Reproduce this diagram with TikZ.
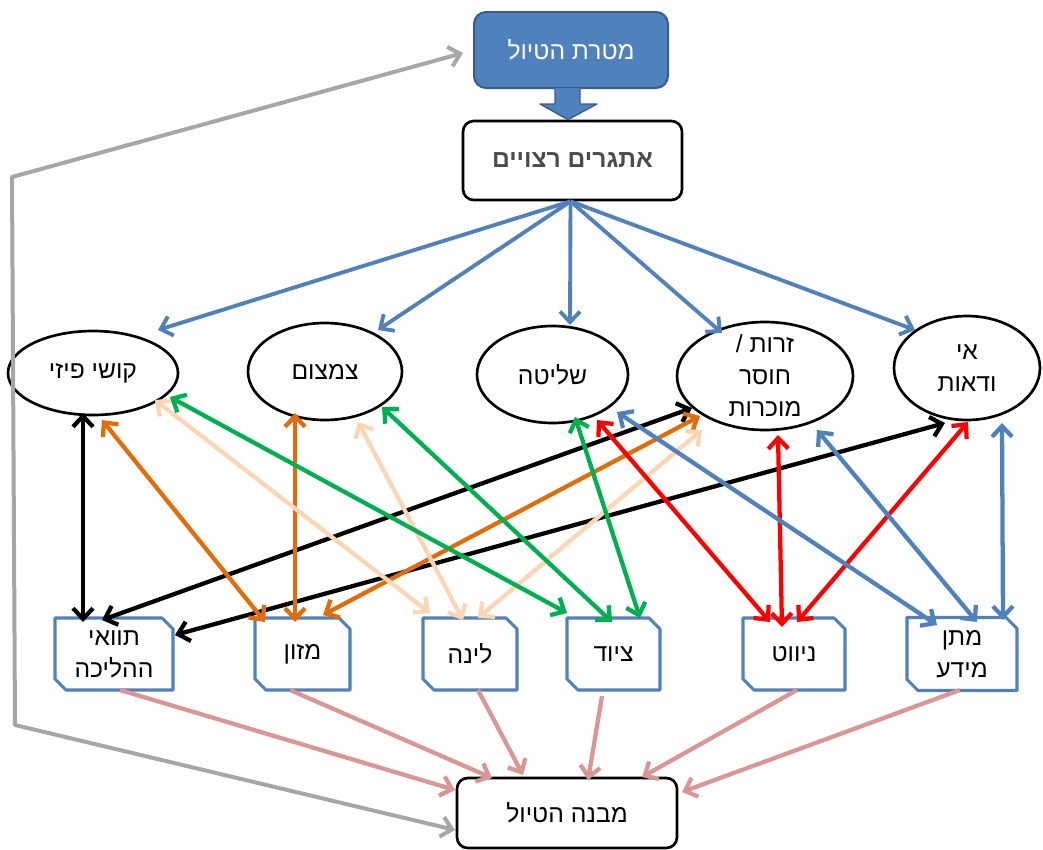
\documentclass[tikz,border=0pt]{standalone}
\usepackage{fontspec}
\setmainfont{Liberation Sans}
\newfontfamily\heb[Script=Hebrew]{Liberation Sans}
\TeXXeTstate=1
\usetikzlibrary{arrows.meta,calc,shapes.geometric}
\definecolor{cblue}{RGB}{79,129,189}
\definecolor{cbluedark}{RGB}{56,93,138}
\definecolor{corange}{RGB}{227,108,9}
\definecolor{cpeach}{RGB}{252,213,180}
\definecolor{cgreen}{RGB}{0,176,80}
\definecolor{cred}{RGB}{255,0,0}
\definecolor{cpink}{RGB}{217,150,148}
\definecolor{cgrey}{RGB}{166,166,166}
\begin{document}
\begin{tikzpicture}[x=0.75pt,y=-0.75pt,
  >={Straight Barb[length=8pt,width=15pt]},
  every node/.style={font=\heb\fontsize{18.5}{24}\selectfont},
  ell/.style={ellipse, draw=black, line width=2pt, inner sep=0pt},
  cbox/.style={rectangle, inner sep=0pt, outer sep=0pt, minimum height=54pt, align=center},
  cboxline/.style={draw=cblue, line width=2.3pt, line join=round},
  conn/.style={line width=3.2pt, <->},
  bluec/.style={draw=cblue, line width=2.9pt, ->},
  pinkc/.style={draw=cpink, line width=3.2pt, ->},
  greyc/.style={draw=cgrey, line width=3pt, <->},
]
\useasboundingbox (0,0) rectangle (1043,850);

% top boxes
\node[rectangle, rounded corners=9pt, fill=cblue, draw=cbluedark, line width=1.5pt, text=white,
      minimum width=145.5pt, minimum height=57pt] (goal) at (571,50) {\beginR מטרת הטיול\endR};
\node[rectangle, rounded corners=8pt, draw=black, line width=2pt, text=black!70,
      font=\heb\bfseries\fontsize{18.5}{24}\selectfont,
      minimum width=164.25pt, minimum height=59.25pt] (at) at (572.5,160.5) {\beginR אתגרים רצויים\endR};

% block arrow
\fill[cblue] ($(goal.south)+(-16,-1)$) -- ($(goal.south)+(9,-1)$) -- ($(goal.south)+(9,15)$) -- ($(goal.south)+(26,15)$)
  -- ($(at.north)+(-4.5,0)$) -- ($(goal.south)+(-31,15)$) -- ($(goal.south)+(-16,15)$) -- cycle;
\draw[cbluedark, line width=1pt, line join=round] ($(goal.south)+(9,0)$) -- ($(goal.south)+(9,15)$) -- ($(goal.south)+(26,15)$)
  -- ($(at.north)+(-4.5,0)$) -- ($(goal.south)+(-31,15)$) -- ($(goal.south)+(-16,15)$) -- ($(goal.south)+(-16,0)$);

% ellipses
\node[ell, minimum width=127.5pt, minimum height=63pt, label={center:\beginR קושי פיזי\endR}] (kp) at (93,373) {};
\node[ell, minimum width=115.5pt, minimum height=72.75pt, label={center:\beginR צמצום\endR}] (cm) at (325,371.5) {};
\node[ell, minimum width=113.25pt, minimum height=72.75pt, label={center:\beginR שליטה\endR}] (sh) at (552.5,374.5) {};
\node[ell, minimum width=132pt, minimum height=81pt,
      label={[align=center]center:{\beginR זרות /\endR\\\beginR חוסר\endR\\\beginR מוכרות\endR}}] (zr) at (765,376) {};
\node[ell, minimum width=109.5pt, minimum height=78pt,
      label={[align=center]center:{\beginR אי\endR\\\beginR ודאות\endR}}] (ad) at (967,368) {};

% chamfered boxes
\node[cbox, minimum width=88.5pt] (tv) at (114,654) {\beginR תוואי\endR\\\beginR ההליכה\endR};
\node[cbox, minimum width=71.25pt] (mz) at (302.5,654) {\beginR מזון\endR};
\node[cbox, minimum width=70.5pt] (ln) at (470,654) {\beginR לינה\endR};
\node[cbox, minimum width=69.75pt] (cy) at (613.5,654) {\beginR ציוד\endR};
\node[cbox, minimum width=76.5pt] (nv) at (794,654) {\beginR ניווט\endR};
\node[cbox, minimum width=82.5pt, minimum height=54.75pt] (mm) at (962,654) {\beginR מתן\endR\\\beginR מידע\endR};
\foreach \n in {tv,mz,ln,cy,nv,mm}{
  \draw[cboxline] (\n.north west) -- ($(\n.north east)+(-11,0)$) -- ($(\n.north east)+(0,11)$)
    -- (\n.south east) -- ($(\n.south west)+(11,0)$) -- ($(\n.south west)+(0,-11)$) -- cycle;
}

% bottom box
\node[rectangle, rounded corners=8pt, draw=black, line width=2pt,
      minimum width=165pt, minimum height=52.5pt] (mb) at (567,813) {\beginR מבנה הטיול\endR};

% blue arrows from challenges
\draw[bluec] ($(at.south)+(-2,0)$) -- ($(kp.center)+(65,-43)$);
\draw[bluec] ($(at.south)+(-2,0)$) -- ($(cm.center)+(53,-41.5)$);
\draw[bluec] ($(at.south)+(-2,0)$) -- ($(sh.center)+(17.5,-49.5)$);
\draw[bluec] ($(at.south)+(-2,0)$) -- ($(zr.center)+(-43,-43)$);
\draw[bluec] ($(at.south)+(-2,0)$) -- ($(ad.center)+(-52,-38)$);

% black
\draw[conn, black] ($(kp.center)+(-10,40)$) -- ($(tv.center)+(-31,-32)$);
\draw[conn, black] ($(zr.center)+(-73,32)$) -- ($(tv.center)+(-12,-34)$);
\draw[conn, black] ($(ad.center)+(-22,55)$) -- ($(tv.center)+(61,-19)$);
% orange
\draw[conn, corange] ($(kp.center)+(9,47)$) -- ($(mz.center)+(-37.5,-32)$);
\draw[conn, corange] ($(cm.center)+(-30,41.5)$) -- ($(mz.center)+(-7.5,-32)$);
\draw[conn, corange] ($(zr.center)+(-65,40)$) -- ($(mz.center)+(20.5,-39)$);
% peach
\draw[conn, cpeach] ($(kp.center)+(62,27)$) -- ($(ln.center)+(-40,-41)$);
\draw[conn, cpeach] ($(cm.center)+(33,50.5)$) -- ($(ln.center)+(-7,-34)$);
\draw[conn, cpeach] ($(zr.center)+(-63,54)$) -- ($(ln.center)+(8,-36)$);
% green
\draw[conn, cgreen] ($(kp.center)+(77,24)$) -- ($(cy.center)+(-46.5,-41)$);
\draw[conn, cgreen] ($(cm.center)+(57,35.5)$) -- ($(cy.center)+(-1.5,-32)$);
\draw[conn, cgreen] ($(sh.center)+(22.5,42.5)$) -- ($(cy.center)+(26.5,-36)$);
% red
\draw[conn, cred] ($(sh.center)+(44.5,45.5)$) -- ($(nv.center)+(-24,-32)$);
\draw[conn, cred] ($(zr.center)+(13,59)$) -- ($(nv.center)+(-12,-27)$);
\draw[conn, cred] ($(ad.center)+(1,54)$) -- ($(nv.center)+(3,-32)$);
% blue
\draw[conn, cblue] ($(sh.center)+(64.5,37.5)$) -- ($(mm.center)+(-25,-29)$);
\draw[conn, cblue] ($(zr.center)+(52,54)$) -- ($(mm.center)+(15,-32)$);
\draw[conn, cblue] ($(ad.center)+(35,55)$) -- ($(mm.center)+(41,-34)$);

% pink to structure
\draw[pinkc] ($(tv.center)+(6,36)$) -- ($(mb.center)+(-112,-23)$);
\draw[pinkc] ($(mz.center)+(-12.5,36)$) -- ($(mb.center)+(-75,-35)$);
\draw[pinkc] ($(ln.center)+(8,36)$) -- ($(mb.center)+(-44,-38)$);
\draw[pinkc] ($(cy.center)+(-11.5,42)$) -- ($(mb.center)+(21,-33)$);
\draw[pinkc] ($(nv.center)+(3,36)$) -- ($(mb.center)+(75,-36)$);
\draw[pinkc] ($(mm.center)+(-2,36)$) -- ($(mb.center)+(115,-21)$);

% grey feedback
\coordinate (g1) at (15,725);
\coordinate (g2) at (12,177);
\draw[greyc, line join=round] ($(mb.center)+(-112,17)$) -- (g1) -- (g2) -- ($(goal.center)+(-108,3)$);
\end{tikzpicture}
\end{document}
